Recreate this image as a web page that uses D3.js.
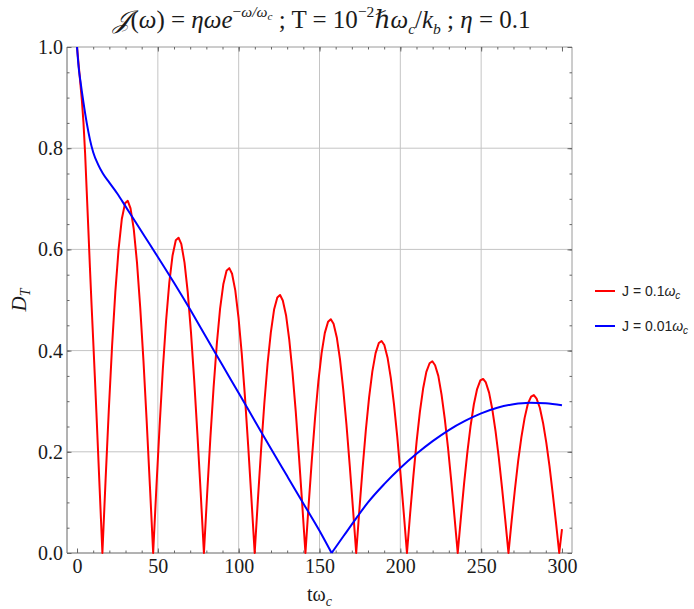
<!DOCTYPE html>
<html>
<head>
<meta charset="utf-8">
<script src="https://cdn.jsdelivr.net/npm/d3@7"></script>
<style>
  body { margin: 0; background: #fff; }
</style>
</head>
<body>
<div id="chart"></div>
<script>
// DATA
const xTicks = [0, 50, 100, 150, 200, 250, 300];
const yTicks = [0, 0.2, 0.4, 0.6, 0.8, 1.0];
const xGrid = [50, 100, 150, 200, 250];
const yGrid = [0.2, 0.4, 0.6, 0.8];

// J = 0.1 wc  (red)
const redT = [0, 1, 2, 3, 4, 5, 6, 7, 8, 9, 10, 11, 12, 13, 14, 15.7,
  17.7, 19.7, 21.7, 23.7, 25.7, 27.7, 29.7, 31.4, 33.1, 35.1, 37.1, 39.1, 41.1, 43.1, 45.1, 47.1,
  49.1, 51.1, 53.1, 55.1, 57.1, 59.1, 61.1, 62.8, 64.5, 66.5, 68.5, 70.5, 72.5, 74.5, 76.5, 78.5,
  80.5, 82.5, 84.5, 86.5, 88.5, 90.5, 92.5, 94.2, 95.9, 97.9, 99.9, 101.9, 103.9, 105.9, 107.9, 109.9,
  111.9, 113.9, 115.9, 117.9, 119.9, 121.9, 123.9, 125.6, 127.3, 129.3, 131.3, 133.3, 135.3, 137.3, 139.3, 141.3,
  143.3, 145.3, 147.3, 149.3, 151.3, 153.3, 155.3, 157.0, 158.7, 160.7, 162.7, 164.7, 166.7, 168.7, 170.7, 172.7,
  174.7, 176.7, 178.7, 180.7, 182.7, 184.7, 186.7, 188.4, 190.1, 192.1, 194.1, 196.1, 198.1, 200.1, 202.1, 204.1,
  206.1, 208.1, 210.1, 212.1, 214.1, 216.1, 218.1, 219.8, 221.5, 223.5, 225.5, 227.5, 229.5, 231.5, 233.5, 235.5,
  237.5, 239.5, 241.5, 243.5, 245.5, 247.5, 249.5, 251.2, 252.9, 254.9, 256.9, 258.9, 260.9, 262.9, 264.9, 266.9,
  268.9, 270.9, 272.9, 274.9, 276.9, 278.9, 280.9, 282.6, 284.3, 286.3, 288.3, 290.3, 292.3, 294.3, 296.3, 298.3,
  300];
const redD = [1.0, 0.965, 0.93, 0.895, 0.85, 0.79, 0.715, 0.64, 0.563, 0.49, 0.421, 0.35, 0.277, 0.202, 0.127, 0,
  0.147, 0.285, 0.410, 0.516, 0.600, 0.660, 0.691, 0.696, 0.681, 0.640, 0.574, 0.485, 0.380, 0.260, 0.132, 0,
  0.130, 0.252, 0.364, 0.459, 0.535, 0.588, 0.618, 0.623, 0.611, 0.574, 0.515, 0.436, 0.341, 0.233, 0.119, 0,
  0.117, 0.228, 0.328, 0.414, 0.483, 0.531, 0.558, 0.563, 0.552, 0.519, 0.465, 0.394, 0.308, 0.211, 0.107, 0,
  0.106, 0.206, 0.297, 0.375, 0.436, 0.481, 0.505, 0.510, 0.499, 0.470, 0.421, 0.357, 0.280, 0.191, 0.097, 0,
  0.096, 0.186, 0.269, 0.339, 0.395, 0.435, 0.457, 0.462, 0.453, 0.426, 0.382, 0.323, 0.253, 0.173, 0.088, 0,
  0.087, 0.169, 0.244, 0.308, 0.359, 0.395, 0.415, 0.419, 0.411, 0.386, 0.346, 0.293, 0.230, 0.157, 0.080, 0,
  0.079, 0.153, 0.221, 0.279, 0.325, 0.358, 0.375, 0.379, 0.371, 0.350, 0.313, 0.265, 0.208, 0.142, 0.072, 0,
  0.071, 0.139, 0.200, 0.252, 0.294, 0.324, 0.341, 0.344, 0.337, 0.317, 0.284, 0.241, 0.189, 0.129, 0.066, 0,
  0.065, 0.126, 0.182, 0.229, 0.267, 0.295, 0.309, 0.312, 0.305, 0.287, 0.257, 0.218, 0.171, 0.117, 0.060, 0,
  0.047];

// J = 0.01 wc  (blue) : falling branch, then rising branch after the zero
const blueFallT = [0, 1, 2, 3, 4, 6, 8, 10, 13, 16, 20, 25, 30, 36, 42, 50, 60, 70, 80, 90, 100,
  110, 120, 130, 140, 150, 157.5];
const blueFallD = [1.0, 0.96, 0.935, 0.912, 0.89, 0.85, 0.817, 0.792, 0.768, 0.75, 0.732, 0.710, 0.685, 0.655,
  0.625, 0.585, 0.534, 0.481, 0.426, 0.371, 0.316, 0.261, 0.206, 0.152, 0.098, 0.044, 0.0];
const blueRiseT = [157.5, 165, 173, 180, 190, 200, 210, 220, 230, 240, 250, 260, 270, 280, 290, 300];
const blueRiseD = [0.0, 0.034, 0.07, 0.100, 0.136, 0.168, 0.196, 0.221, 0.243, 0.261, 0.276, 0.287, 0.294,
  0.297, 0.296, 0.292];

const seriesNames = ["0.1", "0.01"];
const seriesColors = ["#ff0000", "#0000ff"];

const serif = '"Liberation Serif", Tinos, "Times New Roman", "DejaVu Serif", serif';

const W = 694, H = 609;
const frame = { left: 67, right: 572, top: 47, bottom: 553 };

const svg = d3.select('#chart').append('svg')
  .attr('width', W)
  .attr('height', H)
  .style('font-family', serif);

const x = d3.scaleLinear().domain([-6.2, 306.2]).range([frame.left, frame.right]);
const y = d3.scaleLinear().domain([0, 1]).range([frame.bottom, frame.top]);

// grid
svg.append('g').selectAll('line')
  .data(xGrid).enter().append('line')
  .attr('x1', d => x(d)).attr('x2', d => x(d))
  .attr('y1', frame.top).attr('y2', frame.bottom)
  .attr('stroke', '#c4c4c4').attr('stroke-width', 1);
svg.append('g').selectAll('line')
  .data(yGrid).enter().append('line')
  .attr('x1', frame.left).attr('x2', frame.right)
  .attr('y1', d => y(d)).attr('y2', d => y(d))
  .attr('stroke', '#c4c4c4').attr('stroke-width', 1);

// frame (top/right lighter)
svg.append('line').attr('x1', frame.left).attr('x2', frame.right).attr('y1', frame.top).attr('y2', frame.top)
  .attr('stroke', '#9a9a9a');
svg.append('line').attr('x1', frame.right).attr('x2', frame.right).attr('y1', frame.top).attr('y2', frame.bottom)
  .attr('stroke', '#9a9a9a');

function styleAxis(g) {
  g.attr('font-family', serif).attr('font-size', 20);
  g.select('.domain').remove();
  g.selectAll('.tick line').attr('stroke', '#666');
  g.selectAll('.tick text').attr('fill', '#1a1a1a');
}

// bottom
svg.append('g').attr('transform', 'translate(0,' + frame.bottom + ')')
  .call(d3.axisBottom(x).tickValues(x.ticks(30).filter(d => d >= 0)).tickSize(-2.5).tickFormat(''))
  .call(styleAxis);
svg.append('g').attr('transform', 'translate(0,' + frame.bottom + ')')
  .call(d3.axisBottom(x).tickValues(xTicks).tickSize(-4.5).tickPadding(6).tickFormat(d3.format('d')))
  .call(styleAxis);
// left
svg.append('g').attr('transform', 'translate(' + frame.left + ',0)')
  .call(d3.axisLeft(y).tickValues(y.ticks(20)).tickSize(-2.5).tickFormat(''))
  .call(styleAxis);
svg.append('g').attr('transform', 'translate(' + frame.left + ',0)')
  .call(d3.axisLeft(y).tickValues(yTicks).tickSize(-4.5).tickPadding(4).tickFormat(d3.format('.1f')))
  .call(styleAxis);
// top / right (ticks only)
svg.append('g').attr('transform', 'translate(0,' + frame.top + ')')
  .call(d3.axisTop(x).tickValues(x.ticks(30).filter(d => d >= 0)).tickSize(-2.5).tickFormat(''))
  .call(styleAxis);
svg.append('g').attr('transform', 'translate(0,' + frame.top + ')')
  .call(d3.axisTop(x).tickValues(xTicks).tickSize(-4.5).tickFormat(''))
  .call(styleAxis);
svg.append('g').attr('transform', 'translate(' + frame.right + ',0)')
  .call(d3.axisRight(y).tickValues(y.ticks(20)).tickSize(-2.5).tickFormat(''))
  .call(styleAxis);
svg.append('g').attr('transform', 'translate(' + frame.right + ',0)')
  .call(d3.axisRight(y).tickValues(yTicks).tickSize(-4.5).tickFormat(''))
  .call(styleAxis);

// left + bottom frame lines
svg.append('line').attr('x1', frame.left).attr('x2', frame.right).attr('y1', frame.bottom).attr('y2', frame.bottom)
  .attr('stroke', '#666');
svg.append('line').attr('x1', frame.left).attr('x2', frame.left).attr('y1', frame.top).attr('y2', frame.bottom)
  .attr('stroke', '#666');

// curves
const toPts = (ts, ds) => ts.map((t, i) => [t, ds[i]]);
const line = d3.line().x(d => x(d[0])).y(d => y(d[1]));
const smooth = d3.line().x(d => x(d[0])).y(d => y(d[1])).curve(d3.curveMonotoneX);

svg.append('path').datum(toPts(redT, redD))
  .attr('d', line).attr('fill', 'none')
  .attr('stroke', seriesColors[0]).attr('stroke-width', 2).attr('stroke-linejoin', 'round');

[toPts(blueFallT, blueFallD), toPts(blueRiseT, blueRiseD)].forEach(pts => {
  svg.append('path').datum(pts)
    .attr('d', smooth).attr('fill', 'none')
    .attr('stroke', seriesColors[1]).attr('stroke-width', 2);
});

// title
const F = 25;
const title = svg.append('text')
  .attr('x', 322).attr('y', 28)
  .attr('text-anchor', 'middle')
  .style('font-size', F + 'px')
  .attr('fill', '#1a1a1a');
const parts = [
  { t: '𝒥', it: true },
  { t: '(' }, { t: 'ω', it: true }, { t: ') = ' },
  { t: 'ηωe', it: true },
  { t: '−', s: 0.62, dy: -0.45 }, { t: 'ω/ω', it: true, s: 0.62 },
  { t: 'c', it: true, s: 0.45, dy: 0.12 },
  { t: '\u00a0; T = 10', dy: 0.33 },
  { t: '−2', s: 0.62, dy: -0.45 },
  { t: 'ℏω', it: true, dy: 0.45 },
  { t: 'c', it: true, s: 0.62, dy: 0.22 },
  { t: '/', dy: -0.22 }, { t: 'k', it: true },
  { t: 'b', it: true, s: 0.62, dy: 0.22 },
  { t: '\u00a0; ', dy: -0.22 }, { t: 'η', it: true }, { t: ' = 0.1' }
];
parts.forEach(p => {
  title.append('tspan')
    .text(p.t)
    .attr('dy', p.dy ? (p.dy * F) : null)
    .style('font-style', p.it ? 'italic' : 'normal')
    .style('font-size', p.s ? (p.s * F) + 'px' : null);
});

// x axis label
const xl = svg.append('text')
  .attr('x', (frame.left + frame.right) / 2).attr('y', 601)
  .attr('text-anchor', 'middle')
  .style('font-size', '20px').attr('fill', '#1a1a1a');
xl.append('tspan').text('tω');
xl.append('tspan').text('c').style('font-style', 'italic').style('font-size', '14px').attr('dy', 5);

// y axis label
const yl = svg.append('text')
  .attr('transform', 'translate(26,' + ((frame.top + frame.bottom) / 2) + ') rotate(-90)')
  .attr('text-anchor', 'middle')
  .style('font-size', '21px').attr('fill', '#1a1a1a');
yl.append('tspan').text('D').style('font-style', 'italic');
yl.append('tspan').text('T').style('font-style', 'italic').style('font-size', '14px').attr('dy', 4);

// legend
const legend = svg.append('g').attr('transform', 'translate(595,291)');
seriesNames.forEach((name, i) => {
  const row = legend.append('g').attr('transform', 'translate(0,' + (i * 35) + ')');
  row.append('line').attr('x1', 0).attr('x2', 20).attr('y1', 0).attr('y2', 0)
    .attr('stroke', seriesColors[i]).attr('stroke-width', 2);
  const lt = row.append('text').attr('x', 27).attr('y', 5)
    .style('font-family', '"Liberation Sans", Arial, sans-serif')
    .style('font-size', '14px').attr('fill', '#222');
  lt.append('tspan').text('J = ' + name);
  lt.append('tspan').text('ω').style('font-style', 'italic');
  lt.append('tspan').text('c').style('font-style', 'italic').style('font-size', '10px').attr('dy', 3);
});
</script>
</body>
</html>
